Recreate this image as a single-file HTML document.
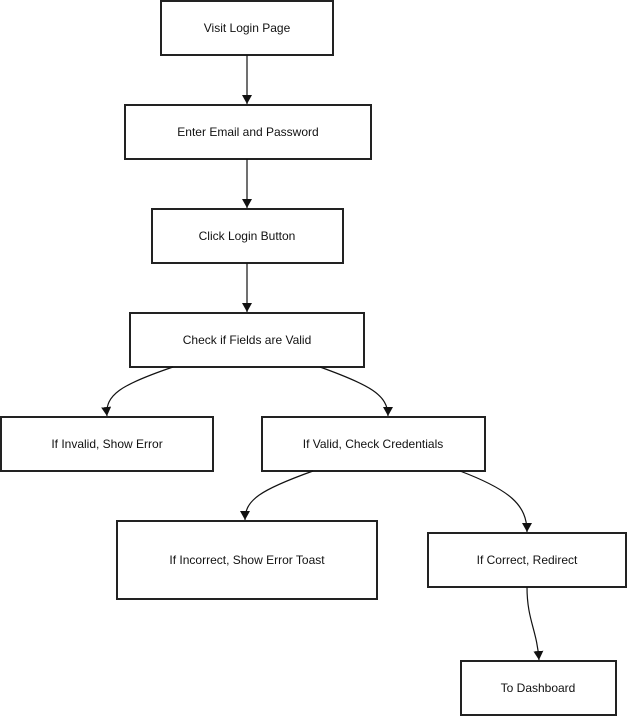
<!DOCTYPE html>
<html><head><style>html,body{margin:0;padding:0;background:#fff;}svg{display:block}</style></head>
<body>
<svg width="628" height="716" viewBox="0 0 628 716" xmlns="http://www.w3.org/2000/svg">
<defs><marker id="a" markerWidth="10" markerHeight="10" refX="9" refY="5" orient="auto" markerUnits="userSpaceOnUse"><path d="M0,0 L9,5 L0,10 z" fill="#111"/></marker></defs>
<g fill="#fff" stroke="#222" stroke-width="2">
<rect x="161" y="1" width="172" height="54"/>
<rect x="125" y="105" width="246" height="54"/>
<rect x="152" y="209" width="191" height="54"/>
<rect x="130" y="313" width="234" height="54"/>
<rect x="1" y="417" width="212" height="54"/>
<rect x="262" y="417" width="223" height="54"/>
<rect x="117" y="521" width="260" height="78"/>
<rect x="428" y="533" width="198" height="54"/>
<rect x="461" y="661" width="155" height="54"/>
</g>
<g fill="none" stroke="#111" stroke-width="1.2">
<path d="M247,55 L247,104" marker-end="url(#a)"/>
<path d="M247,159 L247,208" marker-end="url(#a)"/>
<path d="M247,263 L247,312" marker-end="url(#a)"/>
<path d="M173,367 C120,385 105,395 107,416" marker-end="url(#a)"/>
<path d="M320,367 C370,385 388,395 388,416" marker-end="url(#a)"/>
<path d="M313,471 C260,490 245,500 245,520" marker-end="url(#a)"/>
<path d="M460,471 C510,490 527,505 527,532" marker-end="url(#a)"/>
<path d="M527,587 C527,620 537,630 539,660" marker-end="url(#a)"/>
</g>
<g font-family="Liberation Sans, sans-serif" font-size="12" fill="#111" text-anchor="middle">
<text x="247" y="32">Visit Login Page</text>
<text x="248" y="136">Enter Email and Password</text>
<text x="247" y="240">Click Login Button</text>
<text x="247" y="344">Check if Fields are Valid</text>
<text x="107" y="448">If Invalid, Show Error</text>
<text x="373" y="448">If Valid, Check Credentials</text>
<text x="247" y="564">If Incorrect, Show Error Toast</text>
<text x="527" y="564">If Correct, Redirect</text>
<text x="538" y="692">To Dashboard</text>
</g>
</svg>
</body></html>
